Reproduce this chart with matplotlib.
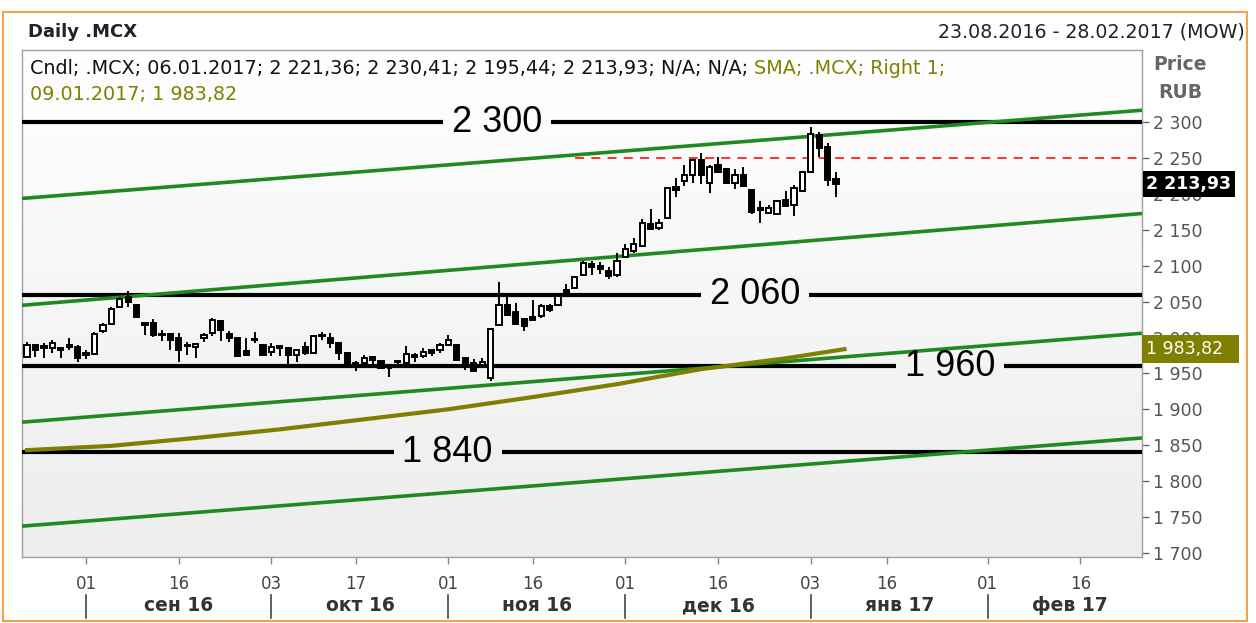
import numpy as np
import pandas as pd
import matplotlib
matplotlib.use("Agg")
import matplotlib.pyplot as plt
import matplotlib.transforms as mtransforms
from matplotlib.patches import Rectangle
from matplotlib.colors import LinearSegmentedColormap
from matplotlib.ticker import FuncFormatter

W, H = 1256, 623

# trading calendar (MOEX), weekends and holidays skipped
HOLIDAYS = ["2016-11-04", "2017-01-02", "2017-02-23"]
days = pd.bdate_range("2016-08-23", "2017-02-28")
days = days[~days.isin(pd.to_datetime(HOLIDAYS))]
pos = {d.strftime("%Y-%m-%d"): i for i, d in enumerate(days)}

# daily candles 23.08.2016 .. 06.01.2017
opens = [1973, 1989, 1988, 1986, 1985, 1989, 1987, 1976, 1977, 2009,
         2019, 2043, 2056, 2045, 2020, 2020, 2004, 2005, 1999, 1988,
         1987, 2000, 2006, 2023, 2005, 2000, 1981, 1998, 1989, 1980,
         1988, 1986, 1976, 1987, 1979, 2002, 2000, 1992, 1979, 1965,
         1964, 1973, 1967, 1957, 1966, 1965, 1973, 1974, 1982, 1983,
         1990, 1990, 1972, 1964, 1962, 1943, 2017, 2046, 2036, 2026,
         2028, 2030, 2044, 2045, 2067, 2069, 2087, 2103, 2100, 2093,
         2087, 2113, 2121, 2127, 2159, 2153, 2167, 2210, 2218, 2227,
         2248, 2216, 2241, 2235, 2215, 2227, 2206, 2178, 2174, 2173,
         2192, 2185, 2205, 2231, 2282, 2266, 2221.36]
highs = [1994, 1990, 1992, 1996, 1986, 1999, 1990, 1983, 2008, 2020,
         2042, 2056, 2065, 2046, 2021, 2026, 2010, 2005, 2006, 1994,
         1992, 2007, 2027, 2024, 2009, 2001, 1999, 2008, 1990, 1993,
         1989, 1987, 1983, 1994, 2003, 2008, 2006, 1992, 1980, 1967,
         1976, 1974, 1968, 1960, 1969, 1988, 1979, 1985, 1983, 1993,
         2003, 1991, 1973, 1970, 1972, 2013, 2078, 2056, 2048, 2027,
         2052, 2047, 2047, 2060, 2075, 2086, 2107, 2107, 2105, 2099,
         2118, 2130, 2139, 2166, 2179, 2166, 2209, 2222, 2241, 2248,
         2257, 2240, 2252, 2236, 2235, 2238, 2207, 2190, 2185, 2192,
         2204, 2213, 2232, 2294, 2287, 2272, 2230.41]
lows = [1971, 1973, 1971, 1978, 1971, 1983, 1966, 1970, 1976, 2006,
        2017, 2042, 2042, 2027, 2003, 2001, 1995, 1983, 1966, 1976,
        1971, 1994, 2002, 1995, 1994, 1973, 1974, 1993, 1974, 1974,
        1974, 1962, 1966, 1976, 1978, 1996, 1985, 1969, 1962, 1953,
        1963, 1962, 1956, 1945, 1962, 1964, 1966, 1971, 1974, 1979,
        1990, 1968, 1955, 1953, 1961, 1940, 2016, 2030, 2018, 2009,
        2023, 2027, 2036, 2044, 2058, 2068, 2086, 2087, 2089, 2082,
        2084, 2112, 2118, 2126, 2150, 2150, 2166, 2196, 2211, 2215,
        2214, 2202, 2229, 2215, 2207, 2210, 2173, 2160, 2172, 2172,
        2182, 2169, 2204, 2230, 2252, 2212, 2195.44]
closes = [1990, 1983, 1985, 1993, 1983, 1987, 1972, 1978, 2005, 2017,
          2040, 2054, 2049, 2028, 2017, 2003, 2005, 1996, 1983, 1989,
          1991, 2003, 2025, 2010, 1999, 1974, 1976, 1997, 1976, 1987,
          1985, 1975, 1983, 1979, 2002, 2003, 1992, 1978, 1964, 1959,
          1971, 1969, 1957, 1958, 1966.5, 1977, 1976, 1980, 1979, 1989,
          1997, 1969, 1962, 1954, 1966, 2012, 2046, 2031, 2019, 2016,
          2024, 2044, 2038, 2058, 2062, 2085, 2104, 2098, 2096, 2086,
          2107, 2123, 2130, 2160, 2151, 2160, 2208, 2206, 2227, 2247,
          2227, 2238, 2231, 2215, 2227, 2212, 2175, 2180, 2181, 2190,
          2184, 2208, 2231, 2284, 2264, 2220, 2213.93]

# SMA (Right 1), read at every 10th trading day
sma_idx = [0, 10, 20, 30, 40, 50, 60, 70, 80, 90, 97]
sma_vals = [1843, 1849, 1860, 1872, 1886, 1900, 1917, 1935, 1956, 1971, 1983.82]

# drawn levels and trend channel (values at left / right chart edge)
levels = [2300, 2060, 1960, 1840]
level_labels = ["2 300", "2 060", "1 960", "1 840"]
chan_left = [2194, 2045, 1882, 1737]
chan_right = [2317, 2173, 2006, 1860]
resist = 2250

tick_dates = ["2016-09-01", "2016-09-16", "2016-10-03", "2016-10-17",
              "2016-11-01", "2016-11-16", "2016-12-01", "2016-12-16",
              "2017-01-03", "2017-01-16", "2017-02-01", "2017-02-16"]
tick_labels = ["01", "16", "03", "17", "01", "16", "01", "16", "03", "16", "01", "16"]
month_starts = ["2016-09-01", "2016-10-03", "2016-11-01", "2016-12-01",
                "2017-01-03", "2017-02-01"]
month_labels = ["сен 16", "окт 16", "ноя 16", "дек 16", "янв 17", "фев 17"]

XMIN, XMAX = -0.6, 132.3
YMIN, YMAX = 1694, 2401
LABEL_X = [55.75, 86.4, 109.5, 49.9]
GAP = 6.4

fig = plt.figure(figsize=(W / 100, H / 100), dpi=100)


def box(x0, y0, x1, y1):
    return [x0 / W, 1 - y1 / H, (x1 - x0) / W, (y1 - y0) / H]


ax = fig.add_axes(box(22, 50, 1142, 557))

grad = LinearSegmentedColormap.from_list("bg", ["#ededed", "#ffffff"])
ax.imshow(np.linspace(0, 1, 256).reshape(-1, 1), cmap=grad, extent=(0, 1, 0, 1),
          transform=ax.transAxes, aspect="auto", zorder=0, origin="lower")

# levels, broken where the label sits
for v, lab, xl in zip(levels, level_labels, LABEL_X):
    ax.hlines(v, XMIN, xl - GAP, color="black", lw=3, zorder=3)
    ax.hlines(v, xl + GAP, XMAX, color="black", lw=3, zorder=3)
    ax.text(xl, v, lab, ha="center", va="center", fontsize=26, family="Liberation Sans",
            color="black", zorder=6)

# channel
for a, b in zip(chan_left, chan_right):
    ax.plot([XMIN, XMAX], [a, b], color="#1f8a1f", lw=2.6, zorder=3, solid_capstyle="butt")

ax.hlines(resist, 65, XMAX, color="#ff2020", lw=1.3, linestyles=(0, (5, 4)), zorder=3)

ax.plot(sma_idx, sma_vals, color="#7f7f00", lw=3, zorder=4)

# candles
o = np.array(opens)
c = np.array(closes)
idx = np.arange(len(o))
up = c >= o
bottom = np.minimum(o, c)
height = np.maximum(np.abs(c - o), 1.0)
ax.vlines(idx, lows, highs, color="black", lw=1.4, zorder=5)
ax.bar(idx, height, bottom=bottom, width=0.62,
       color=np.where(up, "white", "black"), edgecolor="black", lw=1.4, zorder=6)

ax.set_xlim(XMIN, XMAX)
ax.set_ylim(YMIN, YMAX)

# right price axis
ax.yaxis.tick_right()
ax.set_yticks(np.arange(1700, 2301, 50))
ax.yaxis.set_major_formatter(FuncFormatter(lambda v, p: f"{int(v):,}".replace(",", " ")))
ax.tick_params(axis="y", length=5, width=1, color="#666666", labelsize=12.5,
               labelcolor="#555555", pad=3)

ax.set_xticks([pos[d] for d in tick_dates])
ax.set_xticklabels(tick_labels)
ax.tick_params(axis="x", length=5, width=1, color="#888888", labelsize=12,
               labelcolor="#444444", pad=8)

for s in ax.spines.values():
    s.set_color("#a0a0a0")
    s.set_linewidth(1)

blend = mtransforms.blended_transform_factory(ax.transData, ax.transAxes)
starts = [pos[d] for d in month_starts]
ends = starts[1:] + [len(days) + 0.5]
for s0, s1, lab in zip(starts, ends, month_labels):
    ax.plot([s0, s0], [-0.075, -0.12], transform=blend, color="#444444", lw=1.2,
            clip_on=False)
    ax.text((s0 + s1) / 2, -0.096, lab, transform=blend, ha="center", va="center",
            fontsize=13.5, fontweight="bold", color="#333333")

# last values on the price axis
yblend = mtransforms.blended_transform_factory(ax.transAxes, ax.transData)
ax.text(1.004, closes[-1], "2 213,93", transform=yblend, ha="left", va="center",
        fontsize=12.5, fontweight="bold", color="white", zorder=10, clip_on=False,
        bbox=dict(facecolor="black", edgecolor="none", pad=2.8))
ax.text(1.004, sma_vals[-1], "1 983,82  ", transform=yblend, ha="left", va="center",
        fontsize=12.5, color="white", zorder=10, clip_on=False,
        bbox=dict(facecolor="#7f7f00", edgecolor="none", pad=3.5))

# header
fig.text(28 / W, 1 - 32 / H, "Daily .MCX", fontsize=13, fontweight="bold",
         color="#222222", va="center")
fig.text(1245 / W, 1 - 32 / H, "23.08.2016 - 28.02.2017 (MOW)", fontsize=13.7,
         color="#222222", va="center", ha="right")
fig.text(1180 / W, 1 - 64 / H, "Price", fontsize=13.5, fontweight="bold",
         color="#666666", va="center", ha="center")
fig.text(1180 / W, 1 - 92 / H, "RUB", fontsize=13.5, fontweight="bold",
         color="#666666", va="center", ha="center")

# legend line
t1 = fig.text(30 / W, 1 - 68 / H,
              "Cndl; .MCX; 06.01.2017; 2 221,36; 2 230,41; 2 195,44; 2 213,93; N/A; N/A; ",
              fontsize=13.8, color="#111111", va="center")
fig.canvas.draw()
bb = t1.get_window_extent(renderer=fig.canvas.get_renderer())
fig.text(bb.x1 / W, 1 - 68 / H, "SMA; .MCX; Right 1;", fontsize=13.8,
         color="#808000", va="center")
fig.text(30 / W, 1 - 94 / H, "09.01.2017; 1 983,82", fontsize=13.8,
         color="#808000", va="center")

fig.patches.append(Rectangle((3 / W, 1 - 621 / H), 1244 / W, 609 / H,
                             transform=fig.transFigure, fill=False,
                             edgecolor="#f5a04a", lw=1.5))

fig.savefig("out.png", dpi=100)
